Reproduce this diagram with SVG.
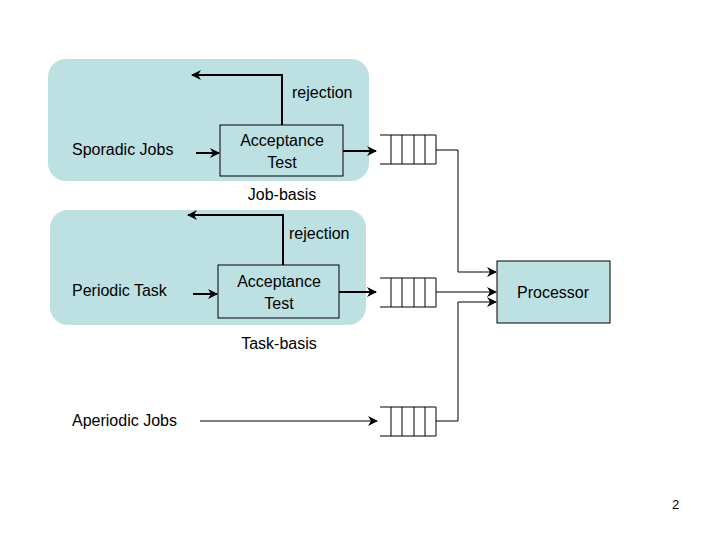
<svg xmlns="http://www.w3.org/2000/svg" width="720" height="540" viewBox="0 0 720 540">
<style>
text{font-family:"Liberation Sans",Arial,sans-serif;font-size:16px;fill:#000}
.panel{fill:#bde0e3}
.box{fill:#bde0e3;stroke:#000;stroke-width:1}
.ln{fill:none;stroke:#000;stroke-width:1}
.th{fill:none;stroke:#000;stroke-width:2}
</style>
<defs>
<marker id="ah" viewBox="0 0 10 10" refX="9" refY="5" markerWidth="7" markerHeight="7" markerUnits="userSpaceOnUse" orient="auto"><path d="M0,0 L10,5 L0,10 L3,5 Z" fill="#000"/></marker>
<marker id="ahs" viewBox="0 0 10 10" refX="9" refY="5" markerWidth="10" markerHeight="10" markerUnits="userSpaceOnUse" orient="auto"><path d="M0,0 L10,5 L0,10 L3,5 Z" fill="#000"/></marker>
</defs>
<rect class="panel" x="48" y="59" width="321" height="122" rx="18"/>
<rect class="panel" x="50" y="210" width="316" height="115" rx="18"/>
<g id="sporadic"><text x="72" y="155">Sporadic Jobs</text></g>
<g id="periodic"><text x="72" y="296">Periodic Task</text></g>
<g id="aperiodic"><text x="72" y="426">Aperiodic Jobs</text></g>
<g id="test1"><rect class="box" x="220" y="125" width="123" height="51"/><text x="282" y="146" text-anchor="middle">Acceptance</text><text x="282" y="168" text-anchor="middle">Test</text></g>
<g id="test2"><rect class="box" x="218" y="265" width="121" height="53"/><text x="279" y="287" text-anchor="middle">Acceptance</text><text x="279" y="309" text-anchor="middle">Test</text></g>
<g id="labels">
<text x="292" y="98">rejection</text>
<text x="289" y="239">rejection</text>
<text x="282" y="200" text-anchor="middle">Job-basis</text>
<text x="279" y="349" text-anchor="middle">Task-basis</text>
</g>
<g id="q1" class="ln"><path d="M380,135H436M380,164H436M391,135V164M402,135V164M414,135V164M425,135V164M436,135V164"/></g>
<g id="q2" class="ln"><path d="M380,278H436M380,307H436M391,278V307M402,278V307M414,278V307M425,278V307M436,278V307"/></g>
<g id="q3" class="ln"><path d="M380,407H436M380,436H436M391,407V436M402,407V436M414,407V436M425,407V436M436,407V436"/></g>
<g id="processor"><rect class="box" x="497" y="261" width="113" height="62"/><text x="553" y="298" text-anchor="middle">Processor</text></g>
<g id="connectors">
<path class="th" d="M282,125V75H192" marker-end="url(#ahs)"/>
<path class="th" d="M283,265V215H188" marker-end="url(#ahs)"/>
<path class="th" d="M196,153H219" marker-end="url(#ahs)"/>
<path class="th" d="M193,294H217" marker-end="url(#ahs)"/>
<path class="th" d="M343,151H376" marker-end="url(#ahs)"/>
<path class="th" d="M339,292H376" marker-end="url(#ahs)"/>
<path class="ln" d="M200,421H377" marker-end="url(#ahs)"/>
<path class="ln" d="M436,150H458V272H496" marker-end="url(#ahs)"/>
<path class="ln" d="M436,292H496" marker-end="url(#ahs)"/>
<path class="ln" d="M436,421H458V302H496" marker-end="url(#ahs)"/>
</g>
<text x="672" y="509" font-size="13" style="font-size:13px">2</text>
</svg>
